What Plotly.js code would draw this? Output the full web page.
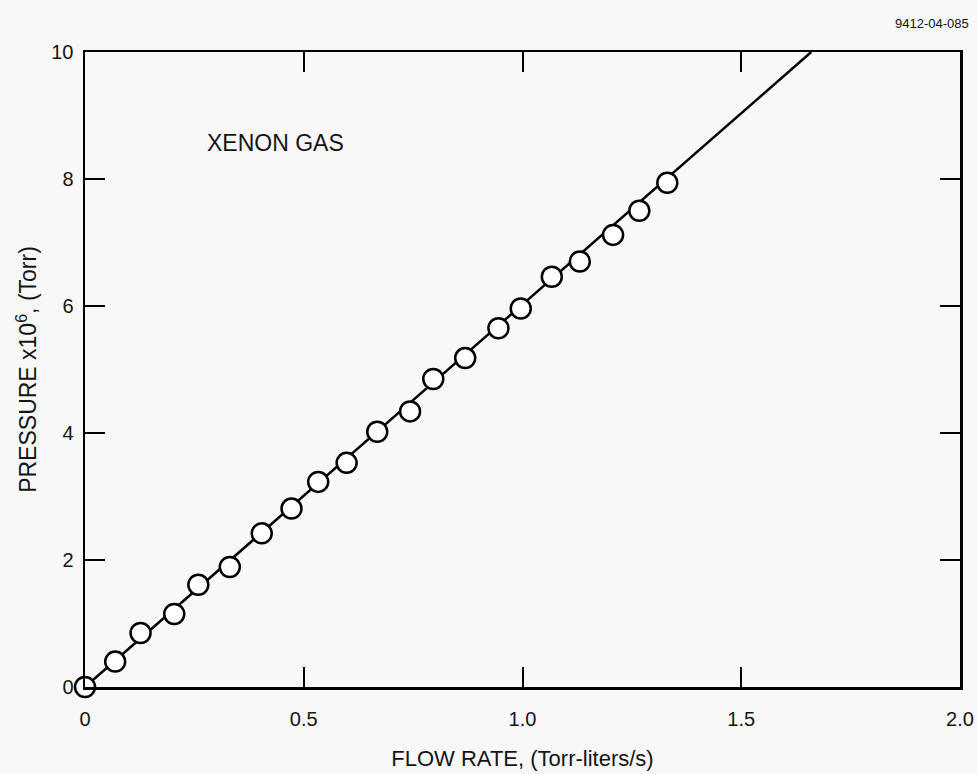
<!DOCTYPE html>
<html>
<head>
<meta charset="utf-8">
<script src="https://cdn.plot.ly/plotly-3.0.1.min.js"></script>
<style>html,body{margin:0;padding:0;background:#f8f8f8;}#chart{width:977px;height:774px;}</style>
</head>
<body>
<div id="chart"></div>
<script>
// Measured data (flow rate, Torr-liters/s; pressure x1e6, Torr)
const flowRate = [0, 0.069, 0.127, 0.204, 0.259, 0.331, 0.404, 0.472, 0.533, 0.598, 0.668,
                  0.743, 0.796, 0.869, 0.945, 0.996, 1.067, 1.131, 1.207, 1.267, 1.331];
const pressure = [0, 0.40, 0.85, 1.15, 1.61, 1.89, 2.42, 2.81, 3.23, 3.53, 4.02,
                  4.34, 4.85, 5.18, 5.65, 5.96, 6.46, 6.70, 7.12, 7.50, 7.94];
// Fitted line endpoints
const fitX = [0, 1.66];
const fitY = [0, 10];
// Tick labels
const xTickVals = [0, 0.5, 1.0, 1.5, 2.0];
const xTickText = ["0", "0.5", "1.0", "1.5", "2.0"];
const yTickVals = [0, 2, 4, 6, 8, 10];
const yTickText = ["0", "2", "4", "6", "8", "10"];

const font = "Liberation Sans, Arial, sans-serif";
const ink = "#141414";

const traces = [
  {x: fitX, y: fitY, mode: "lines", line: {color: "#000", width: 2.5}, hoverinfo: "skip"},
  {x: flowRate, y: pressure, mode: "markers",
   marker: {symbol: "circle", size: 20, color: "#fff", line: {color: "#000", width: 2.5}}, cliponaxis: false}
];

const axisCommon = {
  showline: true, linecolor: "#000", linewidth: 2.5, mirror: "allticks",
  ticks: "inside", ticklen: 20, tickwidth: 2, tickcolor: "#000",
  showgrid: false, zeroline: false, tickmode: "array",
  tickfont: {family: font, size: 20, color: ink}
};

const layout = {
  width: 977, height: 774,
  margin: {l: 85, r: 17, t: 52, b: 87},
  paper_bgcolor: "#f8f8f8", plot_bgcolor: "#f8f8f8",
  showlegend: false,
  font: {family: font, color: ink},
  xaxis: Object.assign({}, axisCommon, {
    range: [0, 2.0], tickvals: xTickVals, ticktext: xTickText,
    ticklabelstandoff: 12,
    title: {text: "FLOW RATE, (Torr-liters/s)", font: {family: font, size: 22, color: ink}, standoff: 22}
  }),
  yaxis: Object.assign({}, axisCommon, {
    range: [0, 10], tickvals: yTickVals, ticktext: yTickText,
    ticklabelstandoff: 5,
    title: {text: "PRESSURE x10<sup>6</sup>, (Torr)", font: {family: font, size: 23, color: ink}, standoff: 8}
  }),
  annotations: [
    {text: "XENON GAS", xref: "paper", yref: "paper", x: 0.137, y: 0.857, xanchor: "left", yanchor: "middle",
     showarrow: false, font: {family: font, size: 23, color: ink}},
    {text: "9412-04-085", xref: "paper", yref: "paper", x: 1.012, y: 1.045, xanchor: "right", yanchor: "middle",
     showarrow: false, font: {family: font, size: 13, color: ink}}
  ]
};

Plotly.newPlot("chart", traces, layout, {displayModeBar: false, staticPlot: true});
</script>
</body>
</html>
